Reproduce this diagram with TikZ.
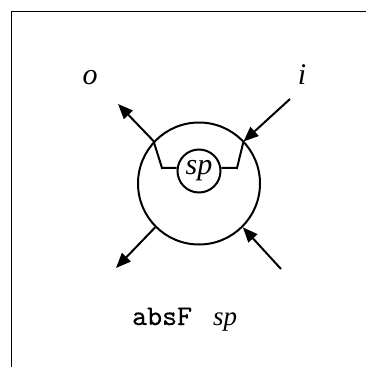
\documentclass[tikz,border=0pt]{standalone}
\usepackage{fontspec}
\setmainfont{Liberation Serif}
\newfontfamily\absfont{lmmono10-regular.otf}[FakeBold=0.5]
\usetikzlibrary{arrows.meta}
\begin{document}
\begin{tikzpicture}[x=1pt,y=-1pt,
  wire/.style={line width=2pt},
  arr/.style={wire,-{Triangle[length=15pt,width=12pt]}},
  lbl/.style={font=\fontsize{30}{34}\selectfont\itshape},
  ring/.style={draw,circle,line width=2pt,inner sep=0pt}]
\useasboundingbox (0,0) rectangle (366,367);
\draw[line width=1pt] (11.5,367) -- (11.5,11.5) -- (366,11.5);
\node[ring,minimum size=122pt] (big) at (199,183.5) {};
\node[ring,minimum size=43pt,font=\fontsize{30}{32}\selectfont\itshape] (sp) at (199,171) {sp};
\coordinate (lc) at (162,168);
\coordinate (lx) at (153.5,141);
\coordinate (otip) at (118,104);
\coordinate (rc) at (237,168);
\coordinate (rx) at (243.5,141.5);
\coordinate (istart) at (290,99);
\coordinate (oltip) at (116,268);
\coordinate (irstart) at (281,269);
\draw[arr] (sp.172) -- (lc) -- (lx) -- (otip);
\draw[wire] (sp.8) -- (rc) -- (rx);
\draw[arr] (istart) -- (rx);
\draw[arr] (big.225) -- (oltip);
\draw[arr] (irstart) -- (big.-45);
\node[lbl] (o) at (90,78) {o};
\node[lbl] (i) at (302,75) {i};
\node[anchor=base west,inner sep=0pt,font=\fontsize{28.5}{30}\selectfont\absfont] (abs) at (132,325) {absF};
\node[anchor=base west,inner sep=0pt,font=\fontsize{27}{30}\selectfont\itshape] (cap) at (213,325) {sp};
\end{tikzpicture}
\end{document}
